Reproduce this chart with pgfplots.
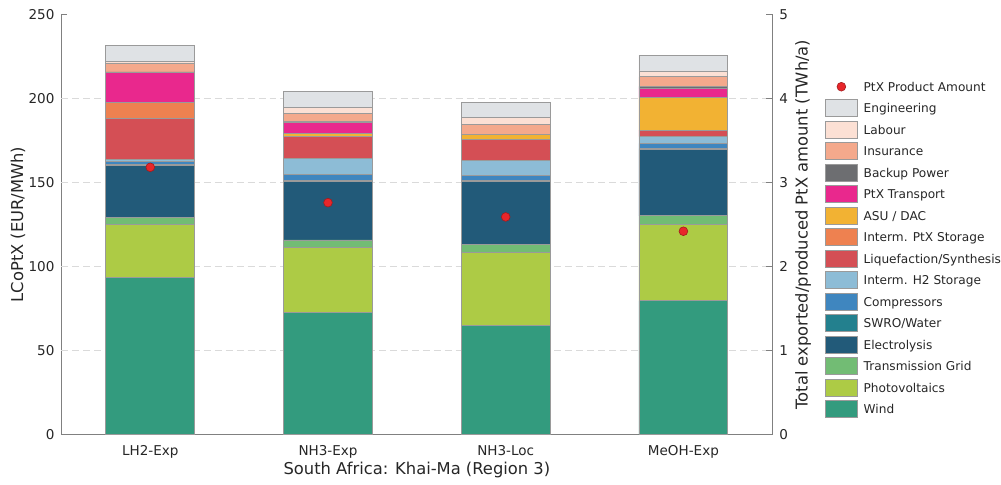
\documentclass[border=0pt]{standalone}
\usepackage{pgfplots}
\pgfplotsset{compat=1.18}
\usepackage{pgfplotstable}
\usepackage{fontspec}
\setmainfont{DejaVu Sans}

\definecolor{cEng}{HTML}{DFE2E5}
\definecolor{cLab}{HTML}{FCE0D4}
\definecolor{cIns}{HTML}{F4A98C}
\definecolor{cBack}{HTML}{6D6E71}
\definecolor{cTrans}{HTML}{E9288D}
\definecolor{cASU}{HTML}{F2B233}
\definecolor{cIPtX}{HTML}{EE8150}
\definecolor{cLiq}{HTML}{D44F55}
\definecolor{cH2}{HTML}{8DBCD6}
\definecolor{cComp}{HTML}{3F86BF}
\definecolor{cSWRO}{HTML}{23808E}
\definecolor{cElec}{HTML}{225A79}
\definecolor{cGrid}{HTML}{72BC74}
\definecolor{cPV}{HTML}{ADCB45}
\definecolor{cWind}{HTML}{339B7E}
\definecolor{ptred}{HTML}{E8262A}
\definecolor{edgegray}{HTML}{9A9A9A}
\definecolor{axisgray}{HTML}{808080}
\definecolor{gridgray}{HTML}{DADADA}
\definecolor{txtgray}{HTML}{262626}

\pgfplotstableread{
x wind pv grid elec swro comp h2 liq iptx asu trans backup ins lab eng
0 93.5 31.6 4.2 31.0 0.4 1.6 1.6 24.3 9.4 0 17.8 0.3 4.9 1.2 9.4
1 72.6 38.9 4.3 34.8 0.6 3.4 9.7 12.9 0 2.1 6.4 0.3 5.0 3.6 9.5
2 64.9 43.6 4.5 37.6 0.5 2.9 8.9 12.9 0 2.5 0 0.2 6.2 4.0 8.9
3 79.7 45.2 5.3 39.4 0.6 3.0 4.0 3.9 0 19.4 5.6 1.0 5.7 3.5 9.4
}\costdata

\pgfplotstableread{
x amount
0 3.18
1 2.76
2 2.59
3 2.42
}\amountdata

\pgfplotsset{
  mybar/.style={fill=#1, draw=edgegray, line width=0.4pt},
  common/.style={
    width=357pt, height=211.2pt, scale only axis,
    xmin=-0.5, xmax=3.5, enlargelimits=false,
    axis line style={draw=axisgray, line width=0.5pt},
    tick style={draw=axisgray, line width=0.5pt},
    tick align=inside, major tick length=3pt,
    tick label style={font=\fontsize{6.8}{8}\selectfont, text=txtgray},
    /pgf/number format/assume math mode=true,
  },
}

\begin{document}
\begin{tikzpicture}
\begin{axis}[
  common,
  name=main,
  ybar stacked, bar width=0.5,
  ymin=0, ymax=250,
  axis x line*=bottom, axis y line*=left,
  xtick={0,1,2,3},
  xticklabels={LH2-Exp,NH3-Exp,NH3-Loc,MeOH-Exp},
  xticklabel style={yshift=-2pt},
  x tick style={draw=none},
  ytick={0,50,100,150,200,250},
  extra y ticks={50,100,150,200},
  extra y tick labels={},
  extra y tick style={ymajorgrids=true, major tick length=0pt},
  grid style={dash pattern=on 3.5pt off 2pt, draw=gridgray, line width=0.5pt},
  xlabel={South Africa: Khai-Ma (Region 3)},
  ylabel={LCoPtX (EUR/MWh)},
  every axis x label/.style={at={(axis description cs:0.5,0)}, anchor=center, yshift=-17.5pt, font=\fontsize{8.2}{9.5}\selectfont, text=txtgray},
  every axis y label/.style={at={(axis description cs:0,0.5)}, xshift=-21.85pt, rotate=90, anchor=center, font=\fontsize{8.2}{9.5}\selectfont, text=txtgray},
  legend image code/.code={\draw[#1, line width=0.4pt] (0pt,-4.25pt) rectangle (16pt,4.25pt);},
  reverse legend,
  legend cell align=left,
  legend style={at={(1,1)}, anchor=north west, xshift=26.5pt, yshift=-31pt,
    draw=none, fill=none, inner sep=0pt, outer sep=0pt,
    font=\fontsize{6.1}{7}\selectfont, text=txtgray,
    column sep=3pt, row sep=0pt,
    nodes={inner sep=0pt, text height=7.65pt, text depth=3.15pt}},
]
\addplot[mybar=cWind]   table[x=x,y=wind]{\costdata};   \addlegendentry{Wind}
\addplot[mybar=cPV]     table[x=x,y=pv]{\costdata};     \addlegendentry{Photovoltaics}
\addplot[mybar=cGrid]   table[x=x,y=grid]{\costdata};   \addlegendentry{Transmission Grid}
\addplot[mybar=cElec]   table[x=x,y=elec]{\costdata};   \addlegendentry{Electrolysis}
\addplot[mybar=cSWRO]   table[x=x,y=swro]{\costdata};   \addlegendentry{SWRO/Water}
\addplot[mybar=cComp]   table[x=x,y=comp]{\costdata};   \addlegendentry{Compressors}
\addplot[mybar=cH2]     table[x=x,y=h2]{\costdata};     \addlegendentry{Interm. H2 Storage}
\addplot[mybar=cLiq]    table[x=x,y=liq]{\costdata};    \addlegendentry{Liquefaction/Synthesis}
\addplot[mybar=cIPtX]   table[x=x,y=iptx]{\costdata};   \addlegendentry{Interm. PtX Storage}
\addplot[mybar=cASU]    table[x=x,y=asu]{\costdata};    \addlegendentry{ASU / DAC}
\addplot[mybar=cTrans]  table[x=x,y=trans]{\costdata};  \addlegendentry{PtX Transport}
\addplot[mybar=cBack]   table[x=x,y=backup]{\costdata}; \addlegendentry{Backup Power}
\addplot[mybar=cIns]    table[x=x,y=ins]{\costdata};    \addlegendentry{Insurance}
\addplot[mybar=cLab]    table[x=x,y=lab]{\costdata};    \addlegendentry{Labour}
\addplot[mybar=cEng]    table[x=x,y=eng]{\costdata};    \addlegendentry{Engineering}
\addlegendimage{legend image code/.code={\filldraw[fill=ptred, draw=ptred!70!black, line width=0.3pt] (8pt,0pt) circle (2.2pt);}}
\addlegendentry{PtX Product Amount}
\end{axis}
\begin{axis}[
  common,
  ymin=0, ymax=5,
  axis y line*=right, axis x line=none,
  ytick={0,1,2,3,4,5},
  ylabel={Total exported/produced PtX amount (TWh/a)},
  every axis y label/.style={at={(axis description cs:1,0.5)}, xshift=15.5pt, rotate=90, anchor=center, font=\fontsize{8.2}{9.5}\selectfont, text=txtgray},
]
\addplot[only marks, mark=*, mark size=2.2pt, mark options={fill=ptred, draw=ptred!70!black, line width=0.3pt}] table[x=x,y=amount]{\amountdata};
\end{axis}
\path ([shift={(-30.85pt,-23.15pt)}]main.south west) rectangle ++(500.5pt,241.5pt);
\end{tikzpicture}
\end{document}
